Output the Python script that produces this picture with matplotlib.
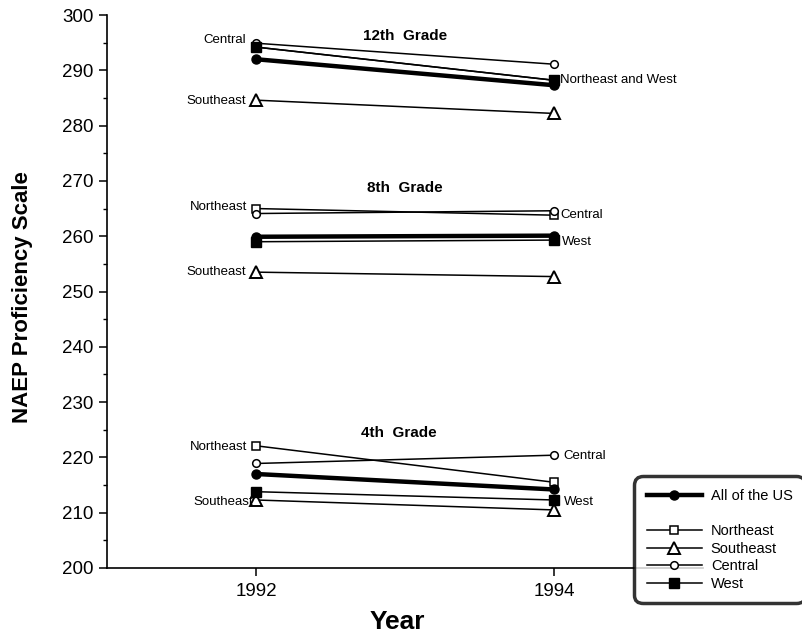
import matplotlib
matplotlib.use("Agg")
import matplotlib.pyplot as plt
from matplotlib.lines import Line2D
from matplotlib.ticker import MultipleLocator

plt.rcParams['font.family'] = ['Liberation Sans', 'DejaVu Sans']

years = [1992, 1994]
regions = ["All of the US", "Northeast", "Southeast", "Central", "West"]

# Grade 12
g12_us = [292.0, 287.3]
g12_ne = [294.2, 288.2]
g12_se = [284.6, 282.2]
g12_ce = [294.9, 291.1]
g12_we = [294.2, 288.2]
# Grade 8
g8_us = [259.9, 260.1]
g8_ne = [265.0, 263.8]
g8_se = [253.5, 252.7]
g8_ce = [264.1, 264.6]
g8_we = [259.0, 259.3]
# Grade 4
g4_us = [217.0, 214.2]
g4_ne = [222.1, 215.5]
g4_se = [212.3, 210.5]
g4_ce = [218.9, 220.4]
g4_we = [213.8, 212.3]

yticks = [200, 210, 220, 230, 240, 250, 260, 270, 280, 290, 300]
xticks = [1992, 1994]

styles = {
    "All of the US": dict(marker='o', ms=6.5, mfc='black', lw=3.2),
    "Northeast": dict(marker='s', ms=6, mfc='white', mew=1.1, lw=1.1),
    "Southeast": dict(marker='^', ms=8, mfc='white', mew=1.4, lw=1.1),
    "Central": dict(marker='o', ms=5.5, mfc='white', mew=1.1, lw=1.1),
    "West": dict(marker='s', ms=7, mfc='black', lw=1.1),
}

fig = plt.figure(figsize=(8.02, 6.34), dpi=100)
ax = fig.add_axes([107/802, 1-568/634, (703-107)/802, (568-15)/634])

groups = [
    (g12_us, g12_ne, g12_se, g12_ce, g12_we),
    (g8_us, g8_ne, g8_se, g8_ce, g8_we),
    (g4_us, g4_ne, g4_se, g4_ce, g4_we),
]
order = [1, 2, 3, 4, 0]
for grp in groups:
    for i in order:
        st = styles[regions[i]]
        ax.plot(years, grp[i], color='black', mec='black', zorder=3 if i == 0 else 2, **st)

ax.set_xlim(1991, 1995)
ax.set_ylim(200, 300)
ax.set_yticks(yticks)
ax.yaxis.set_minor_locator(MultipleLocator(5))
ax.set_xticks(xticks)
ax.set_xticklabels([str(x) for x in xticks])
for s in ['top', 'right']:
    ax.spines[s].set_visible(False)
ax.spines['left'].set_linewidth(1.2)
ax.spines['bottom'].set_linewidth(1.2)
ax.tick_params(axis='both', which='major', labelsize=13.5, length=6, width=1.1, direction='out')
ax.tick_params(axis='y', which='minor', length=3, width=1.0)
ax.tick_params(axis='x', pad=5)

fig.text(23/802, 1-297/634, "NAEP Proficiency Scale", rotation=90, ha='center', va='center',
         fontsize=16, fontweight='bold')
fig.text(397/802, 1-622/634, "Year", ha='center', va='center', fontsize=19, fontweight='bold')

fs = 9.5
def lab(x, y, s, ha, **kw):
    ax.text(x, y, s, ha=ha, va='center', fontsize=fs, **kw)

ax.text(1993.0, 296.2, "12th  Grade", ha='center', va='center', fontsize=11, fontweight='bold')
lab(1991.93, 295.5, "Central", 'right')
lab(1991.93, 284.4, "Southeast", 'right')
lab(1994.04, 288.2, "Northeast and West", 'left')

ax.text(1993.0, 268.7, "8th  Grade", ha='center', va='center', fontsize=11, fontweight='bold')
lab(1991.94, 265.3, "Northeast", 'right')
lab(1991.93, 253.5, "Southeast", 'right')
lab(1994.04, 263.8, "Central", 'left')
lab(1994.05, 259.0, "West", 'left')

ax.text(1992.96, 224.4, "4th  Grade", ha='center', va='center', fontsize=11, fontweight='bold')
lab(1991.94, 221.9, "Northeast", 'right')
lab(1991.98, 211.9, "Southeast", 'right')
lab(1994.06, 220.3, "Central", 'left')
lab(1994.07, 211.9, "West", 'left')

handles = []
for i, r in enumerate(regions):
    st = styles[r]
    handles.append(Line2D([], [], color='black', mec='black', **st))
blank = Line2D([], [], color='none')
leg_handles = [handles[0], blank] + handles[1:]
leg_labels = [regions[0], ""] + regions[1:]
leg = fig.legend(leg_handles, leg_labels, loc='upper left',
                 bbox_to_anchor=(635/802, 1-477/634), fontsize=10.5,
                 handlelength=3.8, handletextpad=0.6, labelspacing=0.25,
                 borderpad=0.8, borderaxespad=0.0, frameon=True, fancybox=True)
fr = leg.get_frame()
fr.set_edgecolor('black')
fr.set_linewidth(2.5)
fr.set_boxstyle('round,pad=0.05,rounding_size=0.6')
leg.set_zorder(10)

fig.savefig("out.png", dpi=100)
